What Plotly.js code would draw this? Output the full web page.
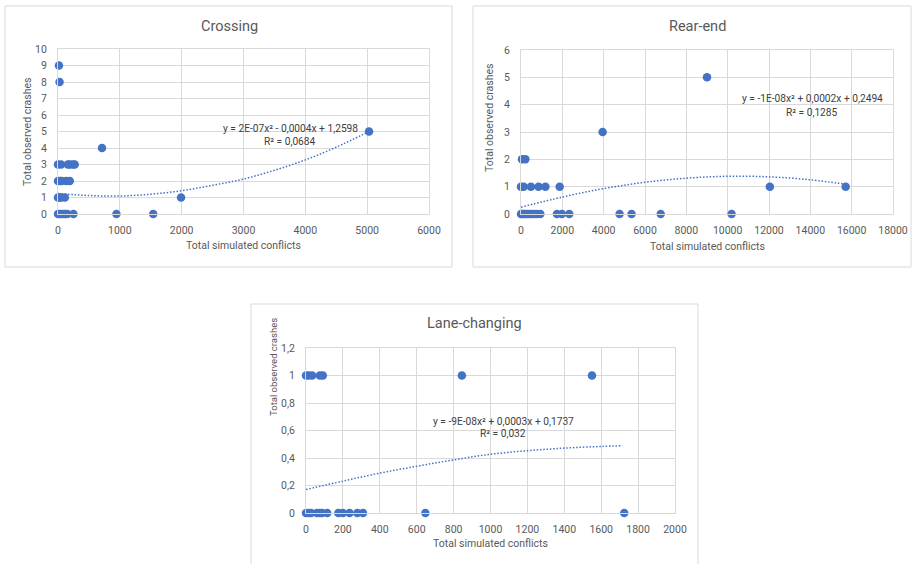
<!DOCTYPE html>
<html>
<head>
<meta charset="utf-8">
<script src="https://cdn.plot.ly/plotly-3.0.1.min.js"></script>
<style>html,body{margin:0;padding:0;background:#fff;}#chart{width:913px;height:564px;}</style>
</head>
<body>
<div id="chart"></div>
<script>
// ---------- DATA ----------
const crossingX = [15, 25, 5030, 712, 0, 50, 160, 190, 240, 270, 0, 30, 60, 130, 190, 0, 20, 50, 110, 1990, 0, 30, 60, 90, 120, 150, 250, 945, 1540];
const crossingY = [9, 8, 5, 4, 3, 3, 3, 3, 3, 3, 2, 2, 2, 2, 2, 1, 1, 1, 1, 1, 0, 0, 0, 0, 0, 0, 0, 0, 0];
const crossingTrendX = [0, 500, 1000, 1500, 2000, 2500, 3000, 3500, 4000, 4500, 5030];
const crossingTrendY = [1.24, 1.12, 1.09, 1.2, 1.41, 1.74, 2.12, 2.65, 3.28, 4.05, 5.0];

const rearX = [9000, 3950, 50, 210, 0, 130, 480, 850, 1180, 1870, 12040, 15710, 0, 60, 120, 200, 300, 400, 500, 620, 750, 935, 1740, 1980, 2335, 4770, 5350, 6760, 10190];
const rearY = [5, 3, 2, 2, 1, 1, 1, 1, 1, 1, 1, 1, 0, 0, 0, 0, 0, 0, 0, 0, 0, 0, 0, 0, 0, 0, 0, 0, 0];
const rearTrendX = [0, 2000, 4000, 6000, 8000, 10000, 12000, 14000, 15700];
const rearTrendY = [0.25, 0.62, 0.93, 1.16, 1.31, 1.38, 1.36, 1.25, 1.09];

const laneX = [0, 15, 33, 75, 91, 845, 1550, 0, 15, 27, 60, 75, 87, 115, 175, 200, 236, 278, 309, 647, 1725];
const laneY = [1, 1, 1, 1, 1, 1, 1, 0, 0, 0, 0, 0, 0, 0, 0, 0, 0, 0, 0, 0, 0];
const laneTrendX = [0, 200, 400, 600, 800, 1000, 1200, 1400, 1600, 1716];
const laneTrendY = [0.171, 0.232, 0.29, 0.34, 0.386, 0.427, 0.453, 0.472, 0.484, 0.489];

const titles = ["Crossing", "Rear-end", "Lane-changing"];
const equations = ["y = 2E-07x² - 0,0004x + 1,2598", "y = -1E-08x² + 0,0002x + 0,2494", "y = -9E-08x² + 0,0003x + 0,1737"];
const r2Labels = ["R² = 0,0684", "R² = 0,1285", "R² = 0,032"];
const xAxisTitle = "Total simulated conflicts";
const yAxisTitle = "Total observed crashes";

const crossingXTicks = [0, 1000, 2000, 3000, 4000, 5000, 6000];
const crossingXText = ["0", "1000", "2000", "3000", "4000", "5000", "6000"];
const crossingYTicks = [0, 1, 2, 3, 4, 5, 6, 7, 8, 9, 10];
const crossingYText = ["0", "1", "2", "3", "4", "5", "6", "7", "8", "9", "10"];
const rearXTicks = [0, 2000, 4000, 6000, 8000, 10000, 12000, 14000, 16000, 18000];
const rearXText = ["0", "2000", "4000", "6000", "8000", "10000", "12000", "14000", "16000", "18000"];
const rearYTicks = [0, 1, 2, 3, 4, 5, 6];
const rearYText = ["0", "1", "2", "3", "4", "5", "6"];
const laneXTicks = [0, 200, 400, 600, 800, 1000, 1200, 1400, 1600, 1800, 2000];
const laneXText = ["0", "200", "400", "600", "800", "1000", "1200", "1400", "1600", "1800", "2000"];
const laneYTicks = [0, 0.2, 0.4, 0.6, 0.8, 1, 1.2];
const laneYText = ["0", "0,2", "0,4", "0,6", "0,8", "1", "1,2"];

// ---------- STYLE / LAYOUT ----------
const W = 913, H = 564;
const FONT = "Roboto, Arial, sans-serif";
const BLUE = "#4472C4";
const GREY = "#595959";
const GRID = "#d9d9d9";
const px = x => x / W;
const py = y => 1 - y / H;

function pts(x, y, xa, ya) {
  return {x: x, y: y, xaxis: xa, yaxis: ya, type: "scatter", mode: "markers",
    marker: {color: BLUE, size: 8.5}, cliponaxis: false, hoverinfo: "x+y", showlegend: false};
}
function trend(x, y, xa, ya) {
  return {x: x, y: y, xaxis: xa, yaxis: ya, type: "scatter", mode: "lines",
    line: {color: BLUE, width: 1.5, dash: "1.5px,1.8px", shape: "spline"}, cliponaxis: false,
    hoverinfo: "skip", showlegend: false};
}

const data = [
  trend(crossingTrendX, crossingTrendY, "x", "y"),
  pts(crossingX, crossingY, "x", "y"),
  trend(rearTrendX, rearTrendY, "x2", "y2"),
  pts(rearX, rearY, "x2", "y2"),
  trend(laneTrendX, laneTrendY, "x3", "y3"),
  pts(laneX, laneY, "x3", "y3")
];

function xax(domain, range, tv, tt, anchor) {
  return {domain: domain, range: range, tickvals: tv, ticktext: tt, anchor: anchor,
    showgrid: true, gridcolor: GRID, gridwidth: 1, zeroline: false,
    showline: true, mirror: true, linecolor: GRID, linewidth: 1, ticks: "",
    ticklabelstandoff: 6, tickfont: {family: FONT, size: 10.5, color: GREY}, fixedrange: true};
}
function yax(domain, range, tv, tt, anchor) {
  return {domain: domain, range: range, tickvals: tv, ticktext: tt, anchor: anchor,
    showgrid: true, gridcolor: GRID, gridwidth: 1, zeroline: false,
    showline: true, mirror: true, linecolor: GRID, linewidth: 1, ticks: "",
    ticklabelstandoff: 8, tickfont: {family: FONT, size: 10.5, color: GREY}, fixedrange: true};
}

function ann(text, x, y, size, color, angle) {
  return {text: text, x: px(x), y: py(y), xref: "paper", yref: "paper", showarrow: false,
    xanchor: "center", yanchor: "middle", textangle: angle || 0,
    font: {family: FONT, size: size, color: color}};
}
function box(x0, y0, x1, y1) {
  return {type: "rect", xref: "paper", yref: "paper", x0: px(x0), x1: px(x1), y0: py(y1), y1: py(y0),
    line: {color: GRID, width: 1}, fillcolor: "rgba(0,0,0,0)", layer: "below"};
}

const layout = {
  width: W, height: H, autosize: false,
  margin: {l: 0, r: 0, t: 0, b: 0, pad: 0},
  paper_bgcolor: "#fff", plot_bgcolor: "#fff",
  showlegend: false,
  xaxis: xax([px(58), px(429)], [0, 6000], crossingXTicks, crossingXText, "y"),
  yaxis: yax([py(214), py(49)], [0, 10], crossingYTicks, crossingYText, "x"),
  xaxis2: xax([px(521), px(893)], [0, 18000], rearXTicks, rearXText, "y2"),
  yaxis2: yax([py(214), py(50)], [0, 6], rearYTicks, rearYText, "x2"),
  xaxis3: xax([px(306), px(675)], [0, 2000], laneXTicks, laneXText, "y3"),
  yaxis3: yax([py(513), py(348)], [0, 1.2], laneYTicks, laneYText, "x3"),
  shapes: [box(5, 6, 452, 267), box(473, 6, 911, 267), box(251, 304, 698, 566)],
  annotations: [
    ann(titles[0], 229, 26, 14.5, GREY),
    ann(titles[1], 697, 26, 14.5, GREY),
    ann(titles[2], 475, 323, 14.5, GREY),
    ann(xAxisTitle, 243, 245, 10.5, GREY),
    ann(xAxisTitle, 707, 246, 10.5, GREY),
    ann(xAxisTitle, 490, 543, 10.5, GREY),
    ann(yAxisTitle, 27, 132, 10.5, GREY, -90),
    ann(yAxisTitle, 489, 118, 10.5, GREY, -90),
    ann(yAxisTitle, 273, 367, 9.5, GREY, -90),
    ann(equations[0], 290, 128, 10.2, "#404040"),
    ann(r2Labels[0], 290, 141, 10.2, "#404040"),
    ann(equations[1], 812, 99, 10.2, "#404040"),
    ann(r2Labels[1], 812, 112, 10.2, "#404040"),
    ann(equations[2], 503, 421, 10.2, "#404040"),
    ann(r2Labels[2], 503, 434, 10.2, "#404040")
  ]
};

Plotly.newPlot("chart", data, layout, {staticPlot: true, displayModeBar: false});
</script>
</body>
</html>
